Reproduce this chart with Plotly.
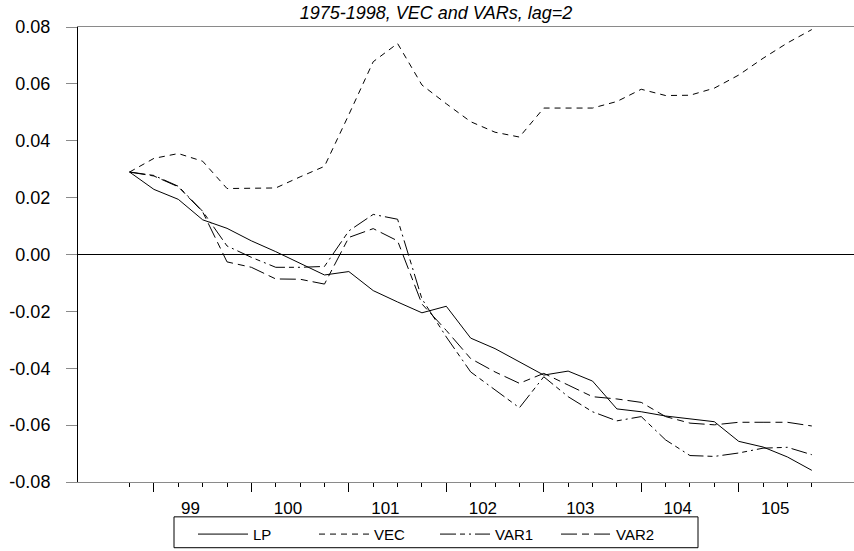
import plotly.graph_objects as go

periods = ["98:4",
           "99:1", "99:2", "99:3", "99:4",
           "100:1", "100:2", "100:3", "100:4",
           "101:1", "101:2", "101:3", "101:4",
           "102:1", "102:2", "102:3", "102:4",
           "103:1", "103:2", "103:3", "103:4",
           "104:1", "104:2", "104:3", "104:4",
           "105:1", "105:2", "105:3", "105:4"]

lp = [0.0290, 0.0229, 0.0194, 0.0122, 0.0092, 0.0048, 0.0010, -0.0030,
      -0.0072, -0.0060, -0.0127, -0.0167, -0.0205, -0.0182, -0.0294, -0.0331,
      -0.0378, -0.0424, -0.0410, -0.0445, -0.0543, -0.0553, -0.0568, -0.0578,
      -0.0588, -0.0657, -0.0677, -0.0712, -0.0759]

vec = [0.0290, 0.0338, 0.0355, 0.0328, 0.0232, 0.0232, 0.0234, 0.0273,
       0.0310, 0.0492, 0.0678, 0.0742, 0.0596, 0.0530, 0.0467, 0.0430,
       0.0413, 0.0515, 0.0515, 0.0515, 0.0538, 0.0581, 0.0559, 0.0560,
       0.0585, 0.0631, 0.0690, 0.0744, 0.0791]

var1 = [0.0290, 0.0278, 0.0240, 0.0152, 0.0030, -0.0010, -0.0045, -0.0045,
        -0.0042, 0.0083, 0.0141, 0.0124, -0.0156, -0.0290, -0.0413, -0.0477,
        -0.0539, -0.0430, -0.0500, -0.0553, -0.0585, -0.0570, -0.0652, -0.0707,
        -0.0710, -0.0698, -0.0681, -0.0678, -0.0704]

var2 = [0.0290, 0.0276, 0.0238, 0.0150, -0.0026, -0.0045, -0.0086, -0.0087,
        -0.0104, 0.0060, 0.0091, 0.0048, -0.0174, -0.0267, -0.0366, -0.0413,
        -0.0453, -0.0418, -0.0459, -0.0500, -0.0508, -0.0520, -0.0570, -0.0593,
        -0.0599, -0.0590, -0.0590, -0.0590, -0.0603]

year_ticks = [99, 100, 101, 102, 103, 104, 105]
year_labels = ["99", "100", "101", "102", "103", "104", "105"]

y_ticks = [0.08, 0.06, 0.04, 0.02, 0.0, -0.02, -0.04, -0.06, -0.08]
y_labels = ["0.08", "0.06", "0.04", "0.02", "0.00", "-0.02", "-0.04", "-0.06", "-0.08"]

title_text = "1975-1998, VEC and VARs, lag=2"


def to_num(p):
    yr, q = p.split(":")
    return int(yr) + (int(q) - 1) / 4.0


x = [to_num(p) for p in periods]
label_pos = [yv + 0.375 for yv in year_ticks]

FONT = "Arial, Liberation Sans, Helvetica, sans-serif"

# plot-area geometry in pixels (used to place legend/frame)
PL, PR, PT, PB = 78, 854, 27, 484
PW, PH = PR - PL, PB - PT


def px_x(p):
    return (p - PL) / PW


def px_y(p):
    return (PB - p) / PH


fig = go.Figure()
series = [
    ("LP", lp, "solid"),
    ("VEC", vec, "6px,5px"),
    ("VAR1", var1, "16px,4px,5px,4px,2px,4px"),
    ("VAR2", var2, "16px,5px,7px,5px"),
]
for name, vals, dash in series:
    fig.add_trace(go.Scatter(x=x, y=vals, mode="lines", name=name,
                             line=dict(color="black", width=1, dash=dash)))

# invisible trace for the label axis
fig.add_trace(go.Scatter(x=[x[0]], y=[0], xaxis="x2", mode="markers",
                         marker=dict(opacity=0), showlegend=False,
                         hoverinfo="skip"))

xr = [98.221, 106.183]

fig.update_layout(
    width=854, height=551,
    margin=dict(l=PL, r=854 - PR, t=PT, b=551 - PB),
    paper_bgcolor="white", plot_bgcolor="white",
    font=dict(family=FONT, color="black"),
    title=dict(text="<i>" + title_text + "</i>", x=436 / 854, xref="container",
               xanchor="center", y=1 - 13 / 551, yref="container",
               yanchor="middle", font=dict(size=18, color="black", family=FONT)),
    xaxis=dict(range=xr, tickmode="array", tickvals=year_ticks,
               showticklabels=False, ticks="outside", ticklen=9,
               tickcolor="black", tickwidth=1,
               showline=True, linecolor="#8a8a8a", linewidth=1, mirror=True,
               showgrid=False, zeroline=False,
               minor=dict(tickmode="array", tickvals=x, ticks="outside",
                          ticklen=4, tickcolor="black", tickwidth=1,
                          showgrid=False)),
    xaxis2=dict(range=xr, overlaying="x", anchor="y", side="bottom",
                tickmode="array", tickvals=label_pos, ticktext=year_labels,
                ticks="outside", ticklen=11, tickcolor="rgba(0,0,0,0)",
                showline=False, showgrid=False, zeroline=False,
                tickfont=dict(size=17, family=FONT, color="black")),
    yaxis=dict(range=[-0.08, 0.08], tickmode="array", tickvals=y_ticks,
               ticktext=y_labels, ticks="outside", ticklen=11,
               tickcolor="#8a8a8a", tickwidth=1,
               showline=True, linecolor="black", linewidth=1,
               showgrid=False, zeroline=True, zerolinecolor="black",
               zerolinewidth=1, ticklabelstandoff=12,
               tickfont=dict(size=18, family=FONT, color="black")),
    legend=dict(orientation="h", x=px_x(193), xanchor="left",
                y=px_y(520), yanchor="top",
                borderwidth=0, bgcolor="rgba(0,0,0,0)",
                font=dict(size=15, family=FONT, color="black"),
                entrywidth=56, entrywidthmode="pixels", itemwidth=50),
    shapes=[dict(type="rect", xref="paper", yref="paper",
                 x0=px_x(174), x1=px_x(698), y0=px_y(550), y1=px_y(519),
                 line=dict(color="black", width=1), fillcolor="rgba(0,0,0,0)",
                 layer="below")],
    showlegend=True,
)

fig.write_html("out.html")
